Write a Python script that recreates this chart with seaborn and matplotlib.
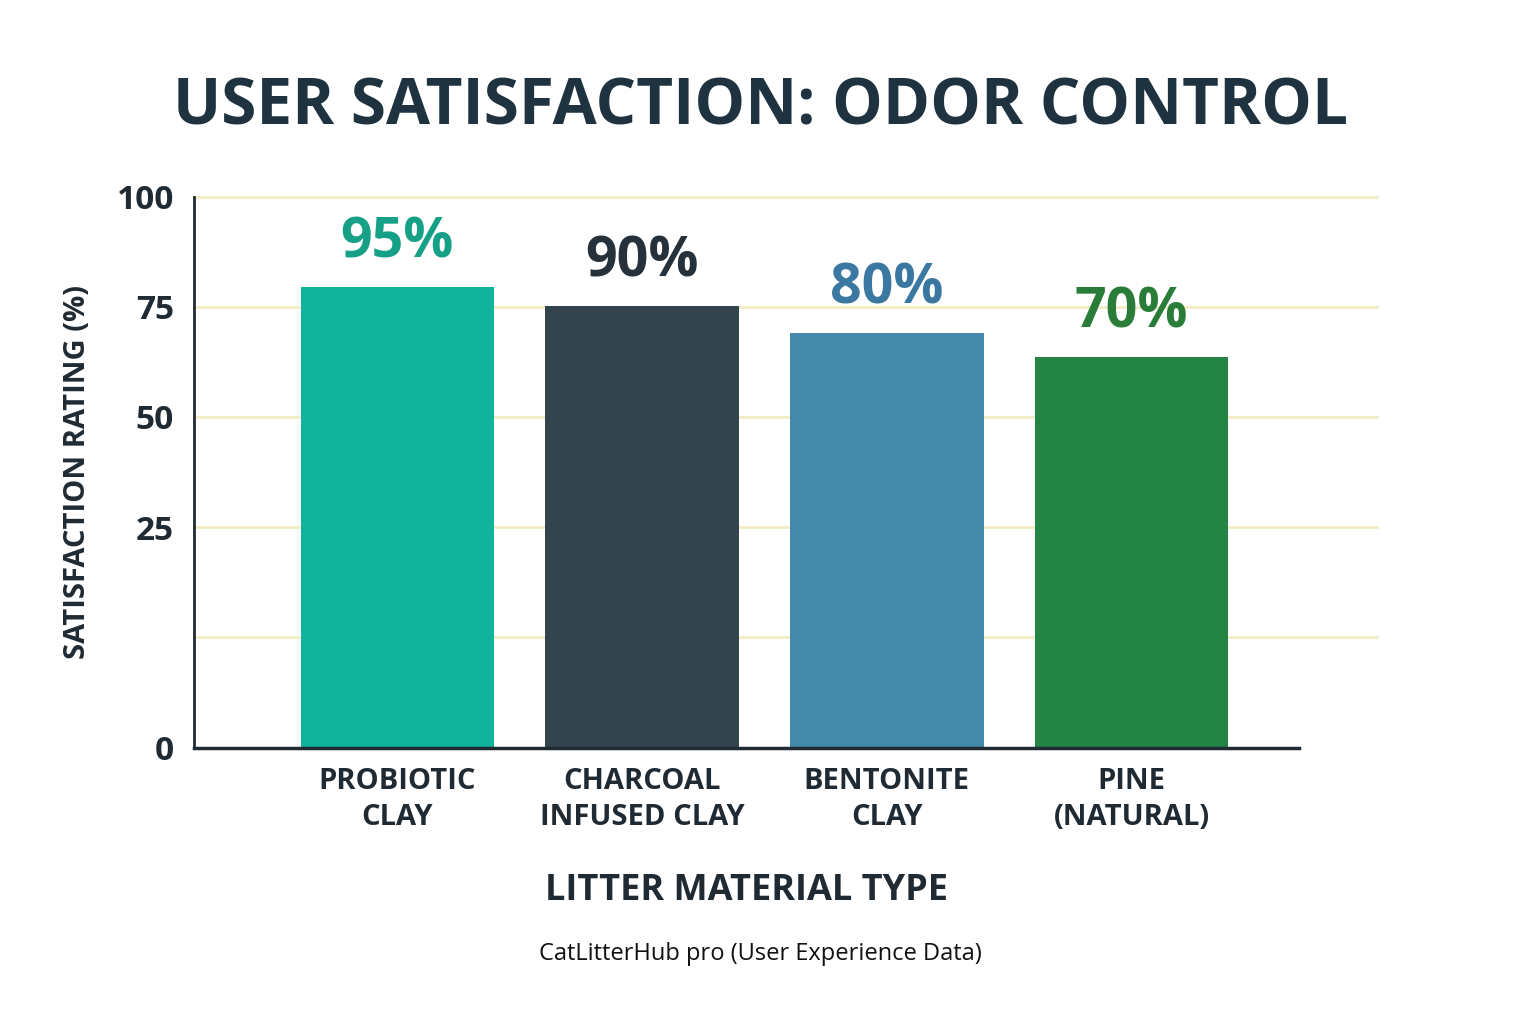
import matplotlib
matplotlib.use("Agg")
import matplotlib.pyplot as plt
import seaborn as sns
import pandas as pd

categories = ["PROBIOTIC\nCLAY", "CHARCOAL\nINFUSED CLAY", "BENTONITE\nCLAY", "PINE\n(NATURAL)"]
bar_heights = [83.6, 80.2, 75.3, 70.9]          # drawn height on the chart's own scale
value_labels = ["95%", "90%", "80%", "70%"]
tick_positions = [0, 40, 60, 80, 100]
tick_labels = ["0", "25", "50", "75", "100"]
grid_positions = [20, 40, 60, 80, 100]
bar_colors = ["#10B39B", "#34444C", "#4289AA", "#238445"]
label_colors = ["#17A088", "#26323B", "#3A78A2", "#2A7D38"]

df = pd.DataFrame({"cat": categories, "h": bar_heights})

fig = plt.figure(figsize=(15.36, 10.24), dpi=100)
ax = fig.add_axes([0.126, 0.270, 0.72, 0.538])
font = "Open Sans"

for g in grid_positions:
    ax.axhline(g, xmin=0, xmax=1.07, color="#F3EBC4", lw=2, clip_on=False, zorder=0)

sns.barplot(data=df, x="cat", y="h", hue="cat", palette=bar_colors, width=0.79,
            legend=False, ax=ax, zorder=2, saturation=1)
ax.set_xlim(-0.833, 3.686)
ax.set_ylim(0, 100)

for i, (h, t) in enumerate(zip(bar_heights, value_labels)):
    ax.text(i, h + 3, t, ha="center", va="bottom", fontsize=40, fontweight="bold",
            color=label_colors[i], family=font)

ax.set_yticks(tick_positions)
ax.set_yticklabels(tick_labels, fontsize=24, fontweight="bold", color="#1F2A33", family=font)
ax.set_xticks(range(len(categories)))
ax.set_xticklabels(categories, fontsize=21, fontweight="bold", color="#1F2A33", family=font,
                   linespacing=1.3)
ax.tick_params(axis="both", length=0, pad=14)
for s in ["top", "right"]:
    ax.spines[s].set_visible(False)
ax.spines["left"].set_color("#1F2A33")
ax.spines["bottom"].set_color("#1F2A33")
ax.spines["left"].set_linewidth(2)
ax.spines["bottom"].set_linewidth(2.5)

ax.set_ylabel("SATISFACTION RATING (%)", fontsize=21, fontweight="bold", color="#1F2A33",
              family=font, labelpad=18)
ax.set_xlabel("LITTER MATERIAL TYPE", fontsize=26, fontweight="bold", color="#1F2A33",
              family=font, labelpad=30)

fig.text(0.495, 0.895, "USER SATISFACTION: ODOR CONTROL", ha="center", va="center",
         fontsize=46, fontweight="bold", color="#1F323F", family=font)
fig.text(0.495, 0.068, "CatLitterHub pro (User Experience Data)", ha="center", va="center",
         fontsize=17, color="#111111", family=font)

fig.savefig("out.png", dpi=100, facecolor="white")
